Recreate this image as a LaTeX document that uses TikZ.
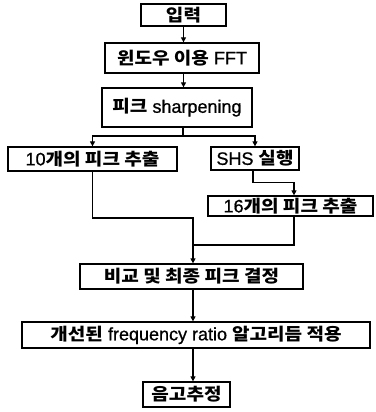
\documentclass[tikz,border=0pt]{standalone}
\usepackage{fontspec}
\usetikzlibrary{arrows.meta}
\setmainfont{Liberation Sans}[FakeBold=0.8]
\newfontfamily\hgfont{Noto Sans CJK KR}[FakeStretch=1.12]
\newcommand\hg[1]{{\hgfont\bfseries\fontsize{17}{20}\selectfont #1}}
\tikzset{
  box/.style={draw, line width=1.3pt, inner sep=0pt, anchor=center,
    font=\fontsize{18}{20}\selectfont},
  conn/.style={line width=1.3pt},
  arr/.style={conn, -{Triangle[length=5pt,width=5pt]}}
}
\begin{document}
\begin{tikzpicture}[x=1pt,y=-1pt]
\path[use as bounding box, fill=white] (0,0) rectangle (375,412);
\node[box, minimum width=85pt, minimum height=22pt] (in) at (183.5,15) {\hg{입력}};
\node[box, minimum width=154pt, minimum height=30pt] (fft) at (182,58) {\hg{윈도우 이용} FFT};
\node[box, minimum width=150pt, minimum height=39pt] (sharp) at (177,107.5) {\hg{피크} sharpening};
\node[box, minimum width=169pt, minimum height=24pt] (p10) at (92.5,159) {10\hg{개의 피크 추출}};
\node[box, minimum width=88pt, minimum height=23pt] (shs) at (255,158.5) {SHS \hg{실행}};
\node[box, minimum width=165pt, minimum height=20pt] (p16) at (290.5,206) {16\hg{개의 피크 추출}};
\node[box, minimum width=223pt, minimum height=25pt] (cmp) at (191.5,276.5) {\hg{비교 및 최종 피크 결정}};
\node[box, minimum width=348pt, minimum height=26pt] (fr) at (196,335) {\hg{개선된} frequency ratio \hg{알고리듬 적용}};
\node[box, minimum width=87pt, minimum height=25pt] (pitch) at (186.5,394.5) {\hg{음고추정}};
\coordinate (j1) at (183,136);
\coordinate (m1) at (193,218);
\coordinate (m2) at (193,245);
\draw[arr] (in.south) -- (in.south |- fft.north);
\draw[arr] (in.south |- fft.south) -- (in.south |- sharp.north);
\draw[conn] (j1 |- sharp.south) -- (j1);
\draw[arr] (j1) -| (p10.north);
\draw[arr] (j1) -| (shs.north);
\draw[arr] ([xshift=-2pt]shs.south) -- ++(0,12) -| ([xshift=3.5pt]p16.north);
\draw[conn] ([xshift=3.5pt]p16.south) |- (m2);
\draw[arr] (p10.south) |- (m1) -- (m1 |- cmp.north);
\draw[arr] (m1 |- cmp.south) -- (m1 |- fr.north);
\draw[arr] (m1 |- fr.south) -- (m1 |- pitch.north);
\end{tikzpicture}
\end{document}
